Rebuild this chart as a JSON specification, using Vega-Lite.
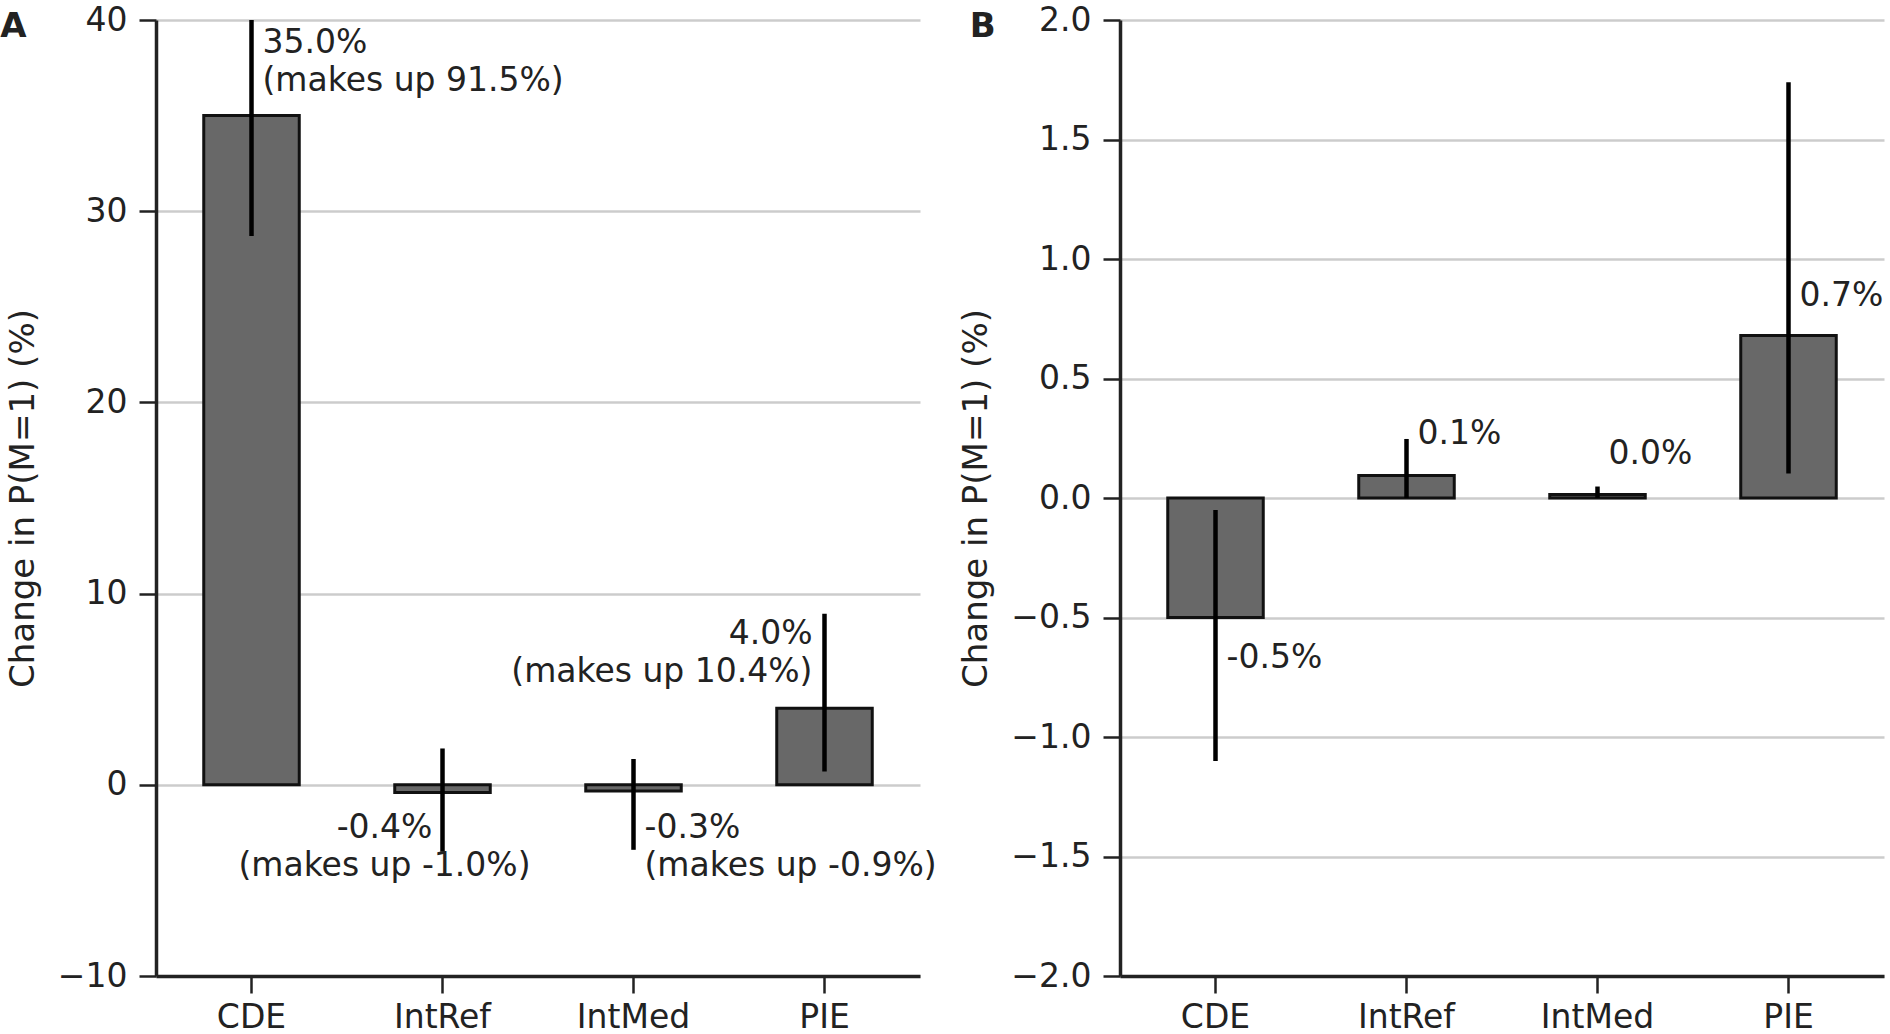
{
  "$schema": "https://vega.github.io/schema/vega-lite/v6.json",
  "background": "white",
  "padding": {"left": 0, "top": 4, "right": 5, "bottom": 3},
  "spacing": 22,
  "config": {
    "font": "DejaVu Sans",
    "view": {"stroke": null},
    "axis": {
      "labelFont": "DejaVu Sans",
      "titleFont": "DejaVu Sans",
      "labelFontSize": 33,
      "titleFontSize": 34,
      "titleFontWeight": "normal",
      "labelColor": "#222222",
      "titleColor": "#222222",
      "domainColor": "#222222",
      "domainWidth": 3.5,
      "tickColor": "#222222",
      "tickWidth": 2.5,
      "tickSize": 17,
      "zindex": 1
    },
    "axisX": {"grid": false, "labelAngle": 0, "labelPadding": 8, "title": null},
    "axisY": {"grid": true, "gridColor": "#000000", "gridOpacity": 0.2, "gridWidth": 2.5, "labelPadding": 12, "titlePadding": 17},
    "title": {"font": "DejaVu Sans", "fontSize": 34, "fontWeight": "bold", "color": "#222222", "anchor": "start", "frame": "bounds", "baseline": "top"}
  },
  "datasets": {
    "a": [
      {"cat": "CDE", "value": 35.0, "lo": 28.7, "hi": 41.3, "ly": 38.3, "label": "35.0%\n(makes up 91.5%)"},
      {"cat": "IntRef", "value": -0.4, "lo": -3.5, "hi": 1.9, "ly": -2.8, "label": "-0.4%\n(makes up -1.0%)"},
      {"cat": "IntMed", "value": -0.33, "lo": -3.4, "hi": 1.35, "ly": -2.8, "label": "-0.3%\n(makes up -0.9%)"},
      {"cat": "PIE", "value": 4.0, "lo": 0.7, "hi": 8.95, "ly": 7.35, "label": "4.0%\n(makes up 10.4%)"}
    ],
    "b": [
      {"cat": "CDE", "value": -0.5, "lo": -1.1, "hi": -0.05, "ly": -0.71, "label": "-0.5%"},
      {"cat": "IntRef", "value": 0.094, "lo": 0.0, "hi": 0.247, "ly": 0.225, "label": "0.1%"},
      {"cat": "IntMed", "value": 0.015, "lo": 0.0, "hi": 0.048, "ly": 0.141, "label": "0.0%"},
      {"cat": "PIE", "value": 0.68, "lo": 0.103, "hi": 1.74, "ly": 0.805, "label": "0.7%"}
    ]
  },
  "hconcat": [
    {
      "width": 764,
      "height": 956,
      "title": {"text": "A", "offset": -40, "dx": -6},
      "data": {"name": "a"},
      "encoding": {
        "x": {"field": "cat", "type": "nominal", "sort": ["CDE", "IntRef", "IntMed", "PIE"], "scale": {"paddingInner": 0.5, "paddingOuter": 0.25}}
      },
      "layer": [
        {
          "mark": {"type": "bar", "fill": "#686868", "stroke": "#111111", "strokeWidth": 3},
          "encoding": {
            "y": {"field": "value", "type": "quantitative", "title": "Change in P(M=1) (%)", "scale": {"domain": [-10, 40], "nice": false}, "axis": {"values": [-10, 0, 10, 20, 30, 40]}}
          }
        },
        {
          "mark": {"type": "rule", "stroke": "#000000", "strokeWidth": 4.5, "clip": true},
          "encoding": {"y": {"field": "lo", "type": "quantitative"}, "y2": {"field": "hi"}}
        },
        {
          "transform": [{"filter": {"field": "cat", "oneOf": ["CDE", "IntMed"]}}],
          "mark": {"type": "text", "align": "left", "baseline": "alphabetic", "dx": 11, "fontSize": 33, "lineBreak": "\n", "lineHeight": 38, "color": "#222222"},
          "encoding": {"y": {"field": "ly", "type": "quantitative"}, "text": {"field": "label"}}
        },
        {
          "transform": [{"filter": {"field": "cat", "oneOf": ["IntRef"]}}],
          "mark": {"type": "text", "align": "center", "baseline": "alphabetic", "dx": -58, "fontSize": 33, "lineBreak": "\n", "lineHeight": 38, "color": "#222222"},
          "encoding": {"y": {"field": "ly", "type": "quantitative"}, "text": {"field": "label"}}
        },
        {
          "transform": [{"filter": {"field": "cat", "oneOf": ["PIE"]}}],
          "mark": {"type": "text", "align": "right", "baseline": "alphabetic", "dx": -12, "fontSize": 33, "lineBreak": "\n", "lineHeight": 38, "color": "#222222"},
          "encoding": {"y": {"field": "ly", "type": "quantitative"}, "text": {"field": "label"}}
        }
      ]
    },
    {
      "width": 764,
      "height": 956,
      "title": {"text": "B", "offset": -40, "dx": 10},
      "data": {"name": "b"},
      "encoding": {
        "x": {"field": "cat", "type": "nominal", "sort": ["CDE", "IntRef", "IntMed", "PIE"], "scale": {"paddingInner": 0.5, "paddingOuter": 0.25}}
      },
      "layer": [
        {
          "mark": {"type": "bar", "fill": "#686868", "stroke": "#111111", "strokeWidth": 3},
          "encoding": {
            "y": {"field": "value", "type": "quantitative", "title": "Change in P(M=1) (%)", "scale": {"domain": [-2, 2], "nice": false}, "axis": {"values": [-2, -1.5, -1, -0.5, 0, 0.5, 1, 1.5, 2], "format": ".1f"}}
          }
        },
        {
          "mark": {"type": "rule", "stroke": "#000000", "strokeWidth": 4.5, "clip": true},
          "encoding": {"y": {"field": "lo", "type": "quantitative"}, "y2": {"field": "hi"}}
        },
        {
          "mark": {"type": "text", "align": "left", "baseline": "alphabetic", "dx": 11, "fontSize": 33, "color": "#222222"},
          "encoding": {"y": {"field": "ly", "type": "quantitative"}, "text": {"field": "label"}}
        }
      ]
    }
  ]
}
